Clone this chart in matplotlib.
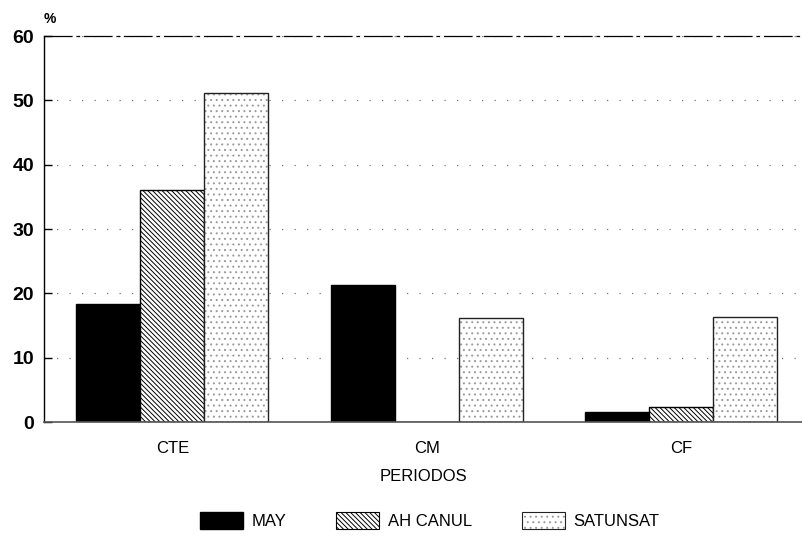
import numpy as np
import matplotlib.pyplot as plt
from matplotlib.patches import Patch

plt.rcParams['font.family'] = ['Liberation Sans', 'DejaVu Sans']
plt.rcParams['hatch.linewidth'] = 0.7

# ---- data ----
categories = ['CTE', 'CM', 'CF']
series_names = ['MAY', 'AH CANUL', 'SATUNSAT']
may = [18.3, 21.3, 1.6]
ah_canul = [36.1, 0.0, 2.3]
satunsat = [51.2, 16.1, 16.4]
y_ticks = [0, 10, 20, 30, 40, 50, 60]

fig = plt.figure(figsize=(8.03, 5.39), dpi=100)
ax = fig.add_axes([0.0548, 0.217, 0.945, 0.716])

x = np.arange(len(categories))
w = 0.252

ax.bar(x - w, may, w, color='black', edgecolor='black', linewidth=1.0)
ax.bar(x, ah_canul, w, color='white', edgecolor='black', hatch='\\' * 7, linewidth=1.0)
# stippled bars: light dots inside, dark outline drawn on top
ax.bar(x + w, satunsat, w, color='white', edgecolor='#9a9a9a', hatch='...', linewidth=0)
ax.bar(x + w, satunsat, w, fill=False, edgecolor='#222222', linewidth=1.0)

ax.set_xlim(-0.505, 2.48)
ax.set_ylim(0, 60)
ax.set_yticks(y_ticks)
ax.set_yticklabels([str(v) for v in y_ticks], fontsize=14, fontweight='bold')
ax.set_xticks(x)
ax.set_xticklabels(categories, fontsize=12)
ax.tick_params(axis='x', length=0, pad=14)
ax.tick_params(axis='y', length=6, width=1, direction='in', pad=7)

# sparse dotted grid
ax.yaxis.grid(True, linestyle=(0, (1, 9)), color='#777777', linewidth=0.9)
ax.set_axisbelow(True)

ax.spines['right'].set_visible(False)
ax.spines['top'].set_linestyle((0, (22, 4, 2, 4)))
ax.spines['top'].set_linewidth(0.9)
ax.spines['left'].set_linewidth(1.0)
ax.spines['bottom'].set_color('#555555')
ax.spines['bottom'].set_linewidth(1.2)

ax.set_xlabel('PERIODOS', fontsize=12, labelpad=9)
fig.text(0.062, 0.965, '%', fontsize=10, fontweight='bold', ha='center', va='center')

h_may = Patch(facecolor='black', edgecolor='black')
h_ah = Patch(facecolor='white', edgecolor='black', hatch='\\' * 7, linewidth=0.8)
h_sat = (Patch(facecolor='white', edgecolor='#9a9a9a', hatch='...', linewidth=0),
         Patch(fill=False, edgecolor='#222222', linewidth=0.8))
fig.legend([h_may, h_ah, h_sat], series_names, loc='lower center',
           bbox_to_anchor=(0.535, -0.01), ncol=3, frameon=False, fontsize=12,
           handlelength=2.6, handleheight=1.2, columnspacing=3.0, handletextpad=0.5)

fig.savefig('out.png', dpi=100)
